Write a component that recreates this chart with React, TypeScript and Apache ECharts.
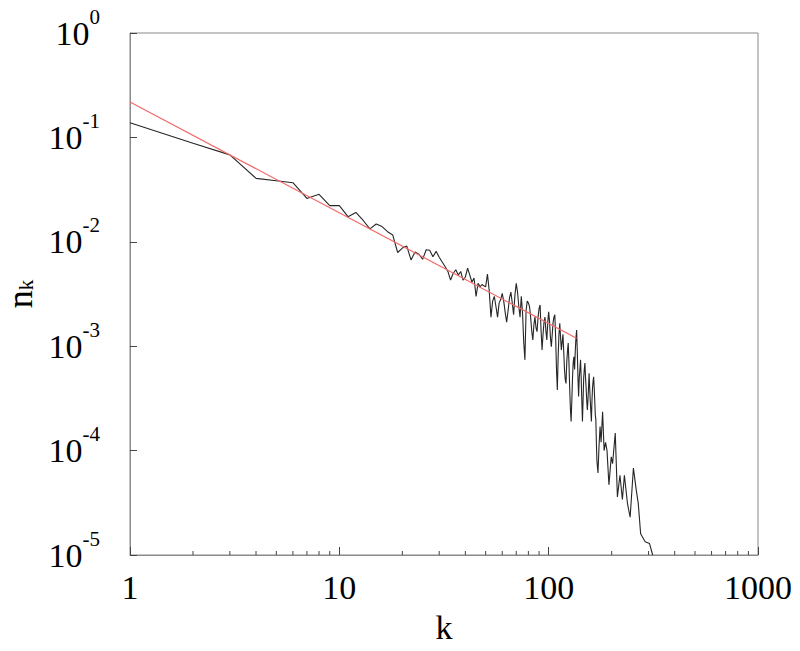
import React, { useEffect, useRef } from "react";
import * as echarts from "echarts";

const kValues: number[] = [
  1, 2, 3, 4, 5, 6, 7, 8, 9, 10, 11, 12, 13, 14, 15, 16, 17, 18, 19, 20,
  21, 22, 23, 24, 25, 26, 27, 28, 29, 30, 31, 32, 33, 34, 35, 36, 37, 38, 39, 40,
  41, 42, 43, 44, 45, 46, 47, 48, 49, 50, 51, 52, 53, 54, 55, 56, 57, 58, 59, 60,
  61, 62, 63, 64, 65, 66, 67, 68, 69, 70, 71, 72, 73, 74, 75, 76, 77, 78, 79, 80,
  81, 82, 83, 84, 85, 86, 87, 88, 89, 90, 91, 92, 93, 94, 95, 96, 97, 98, 99, 100,
  101, 102, 103, 104, 105, 106, 107, 108, 109, 110, 111, 112, 113, 114, 115, 116, 117, 118, 119, 120,
  121, 122, 123, 124, 125, 126, 127, 128, 129, 130, 131, 132, 133, 134, 135, 136, 137, 138, 139, 140,
  141, 142, 143, 144, 145, 146, 147, 148, 149, 150, 151, 152, 153, 154, 155, 156, 157, 158, 159, 160,
  161, 162, 163, 164, 165, 166, 167, 168, 169, 170, 172, 174, 176, 178, 181, 184, 187, 190, 194, 199,
  202, 208, 213, 219, 225, 230, 238, 245, 254, 262, 268, 275, 289, 303, 314,
];

const nkValues: number[] = [
  0.138, 0.088, 0.068, 0.0405, 0.0385, 0.0368, 0.026, 0.0285, 0.0222, 0.0222,
  0.0174, 0.0191, 0.016, 0.0133, 0.0148, 0.014, 0.0125, 0.0116, 0.0079, 0.0087,
  0.0091, 0.0067, 0.008, 0.0076, 0.0068, 0.0084, 0.0083, 0.0072, 0.0081, 0.0071,
  0.0064, 0.0058, 0.0052, 0.0043, 0.005, 0.0054, 0.0048, 0.0052, 0.0043, 0.0046,
  0.0056, 0.0048, 0.0041, 0.0045, 0.003, 0.004, 0.0037, 0.0039, 0.0038, 0.0037,
  0.0049, 0.0034, 0.0019, 0.0027, 0.003, 0.0024, 0.0019, 0.0026, 0.0028, 0.0032,
  0.0027, 0.0021, 0.0017, 0.0022, 0.0029, 0.0033, 0.0026, 0.002, 0.0031, 0.004,
  0.0033, 0.0024, 0.0019, 0.003, 0.0021, 0.0011, 0.00074, 0.0022, 0.0027, 0.0026,
  0.0024, 0.0019, 0.0014, 0.00115, 0.0016, 0.0019, 0.0015, 0.00138, 0.0019, 0.0023,
  0.00248, 0.0014, 0.00092, 0.0013, 0.0017, 0.0019, 0.0014, 0.00115, 0.0017, 0.00214,
  0.0017, 0.0012, 0.00099, 0.0013, 0.0017, 0.0019, 0.002, 0.0012, 0.0006, 0.00038,
  0.0008, 0.0013, 0.00166, 0.0012, 0.00092, 0.0011, 0.0013, 0.0009, 0.0006, 0.00048,
  0.00044, 0.0007, 0.0009, 0.00107, 0.0007, 0.0004, 0.00025, 0.00019, 0.0003, 0.0005,
  0.0007, 0.00079, 0.0006, 0.0009, 0.0012, 0.00143, 0.0009, 0.0005, 0.00033, 0.0005,
  0.0006, 0.00074, 0.0005, 0.0003, 0.00019, 0.0003, 0.0005, 0.0006, 0.00069, 0.0005,
  0.0004, 0.0003, 0.000245, 0.0003, 0.0004, 0.00055, 0.0004, 0.0003, 0.00024, 0.00019,
  0.0003, 0.0004, 0.00046, 0.00051, 0.0004, 0.0003, 0.00022, 0.0002, 0.00012, 0.00008,
  0.000061, 0.00011, 0.00017, 0.00012, 0.000236, 0.0001, 0.00012, 0.0001, 0.000047, 0.000087,
  0.000075, 0.000147, 0.000036, 0.000058, 0.000034, 0.000058, 0.000031, 0.000023, 0.000068, 0.000042,
  0.000031, 0.000016, 0.0000134, 0.0000129, 0.00001,
];

const fitK: number[] = [1, 136];
const fitN: number[] = [0.218, 0.00119];

const xMinorTicks: number[] = [
  2, 3, 4, 5, 6, 7, 8, 9, 20, 30, 40, 50, 60, 70, 80, 90, 200, 300, 400, 500, 600, 700, 800, 900,
];

const SERIF = "'Liberation Serif', 'Times New Roman', serif";
const AXIS_COLOR = "#8a8a8a";

export default function App() {
  const ref = useRef<HTMLDivElement>(null);

  useEffect(() => {
    if (!ref.current) return;
    const chart = echarts.init(ref.current, undefined, { renderer: "svg" });
    const lineData = kValues.map((k, i) => [k, nkValues[i]]);
    const fitData = fitK.map((k, i) => [k, fitN[i]]);
    const minorData = xMinorTicks.map((k) => [k, 1e-5]);

    chart.setOption({
      animation: false,
      backgroundColor: "#ffffff",
      grid: {
        left: 130,
        right: 42,
        top: 33,
        bottom: 96,
        containLabel: false,
        outerBoundsMode: "none",
        show: true,
        borderColor: AXIS_COLOR,
        borderWidth: 1,
        backgroundColor: "transparent",
      },
      xAxis: {
        type: "log",
        logBase: 10,
        min: 1,
        max: 1000,
        name: "k",
        nameLocation: "middle",
        nameGap: 55,
        nameTextStyle: { fontFamily: SERIF, fontSize: 34, color: "#000" },
        axisLine: { show: true, lineStyle: { color: AXIS_COLOR, width: 1 } },
        axisTick: { show: true, inside: true, length: 8, lineStyle: { color: "#444", width: 1 } },
        axisLabel: {
          fontFamily: SERIF,
          fontSize: 34,
          color: "#000",
          margin: 15,
          formatter: (v: number) => String(Math.round(v)),
        },
        splitLine: { show: false },
        minorTick: { show: false },
      },
      yAxis: {
        type: "log",
        logBase: 10,
        min: 1e-5,
        max: 1,
        name: "{n|n}{s|k}",
        nameLocation: "middle",
        nameGap: 92,
        nameTextStyle: {
          rich: {
            n: { fontFamily: SERIF, fontSize: 36, color: "#000", lineHeight: 34 },
            s: { fontFamily: SERIF, fontSize: 21, color: "#000", verticalAlign: "bottom", lineHeight: 34 },
          },
        },
        axisLine: { show: true, lineStyle: { color: AXIS_COLOR, width: 1 } },
        axisTick: { show: true, inside: true, length: 7, lineStyle: { color: "#444", width: 1 } },
        axisLabel: {
          margin: 30,
          formatter: (v: number) => `{b|10}{e|${Math.round(Math.log10(v))}}`,
          rich: {
            b: { fontFamily: SERIF, fontSize: 34, color: "#000", lineHeight: 54 },
            e: { fontFamily: SERIF, fontSize: 21, color: "#000", verticalAlign: "top", lineHeight: 54 },
          },
        },
        splitLine: { show: false },
      },
      series: [
        {
          type: "line",
          data: lineData,
          showSymbol: false,
          symbol: "none",
          lineStyle: { color: "#262626", width: 1.1 },
          z: 2,
        },
        {
          type: "line",
          data: fitData,
          showSymbol: false,
          symbol: "none",
          lineStyle: { color: "#f26a6a", width: 1.2 },
          z: 3,
        },
        {
          type: "custom",
          data: minorData,
          encode: { x: 0, y: 1 },
          silent: true,
          clip: false,
          renderItem: (_params: any, api: any) => {
            const p = api.coord([api.value(0), api.value(1)]);
            return {
              type: "line",
              shape: { x1: p[0], y1: p[1], x2: p[0], y2: p[1] - 4 },
              style: { stroke: "#444", lineWidth: 1 },
            };
          },
          z: 4,
        },
      ],
    });

    return () => chart.dispose();
  }, []);

  return (
    <div
      ref={ref}
      style={{ position: "fixed", left: 0, top: 0, width: 800, height: 651, background: "#fff" }}
    />
  );
}
